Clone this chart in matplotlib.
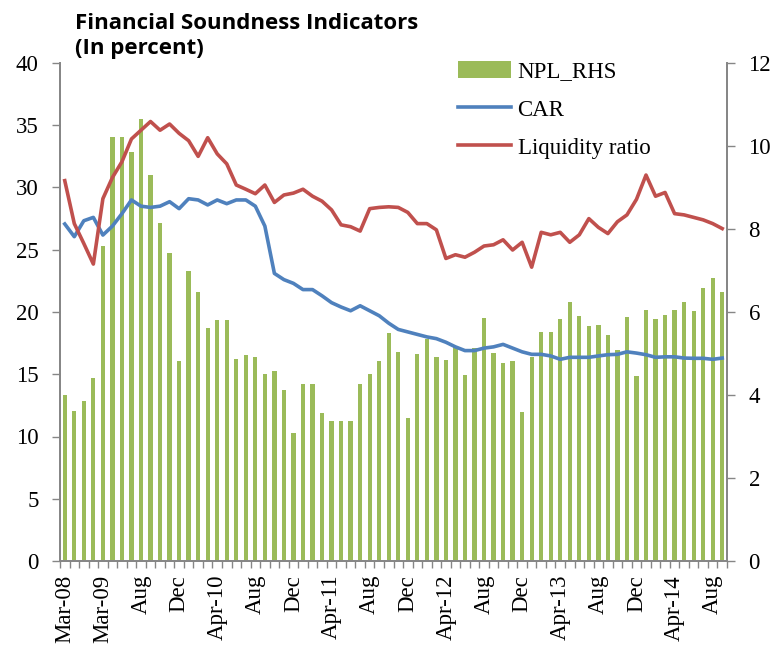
import numpy as np
import matplotlib.pyplot as plt

# categories: quarterly 2008, then monthly to Sep-14
categories = ["Mar-08", "Jun-08", "Sep-08", "Dec-08", "Mar-09", "May-09", "Jun-09", "Jul-09",
              "Aug-09", "Sep-09", "Oct-09", "Nov-09", "Dec-09"]
months = ["Jan", "Feb", "Mar", "Apr", "May", "Jun", "Jul", "Aug", "Sep", "Oct", "Nov", "Dec"]
for yr in ["10", "11", "12", "13", "14"]:
    for m in months:
        categories.append(m + "-" + yr)
categories = categories[:70]

tick_labels = ["Mar-08", "Mar-09", "Aug", "Dec", "Apr-10", "Aug", "Dec", "Apr-11", "Aug",
               "Dec", "Apr-12", "Aug", "Dec", "Apr-13", "Aug", "Dec", "Apr-14", "Aug"]

npl = [4.00, 3.61, 3.86, 4.40, 7.59, 10.21, 10.21, 9.85, 10.65, 9.30, 8.14, 7.42, 4.81, 7.00,
       6.48, 5.61, 5.81, 5.81, 4.86, 4.96, 4.91, 4.51, 4.59, 4.13, 3.08, 4.27, 4.26, 3.56,
       3.37, 3.37, 3.37, 4.27, 4.51, 4.82, 5.49, 5.04, 3.44, 5.00, 5.34, 4.91, 4.84, 5.16,
       4.48, 5.13, 5.85, 5.02, 4.76, 4.82, 3.60, 4.92, 5.53, 5.53, 5.83, 6.23, 5.90, 5.67,
       5.69, 5.45, 5.08, 5.88, 4.46, 6.06, 5.82, 5.92, 6.04, 6.23, 6.02, 6.57, 6.82, 6.49]

car = [27.07, 26.05, 27.33, 27.6, 26.18, 26.9, 27.9, 29.0, 28.5, 28.4, 28.5, 28.86, 28.3, 29.1,
       29.0, 28.6, 29.0, 28.7, 29.0, 29.0, 28.5, 26.9, 23.1, 22.6, 22.3, 21.8, 21.8, 21.3,
       20.75, 20.4, 20.1, 20.5, 20.1, 19.7, 19.1, 18.6, 18.4, 18.2, 18.0, 17.86, 17.57, 17.2,
       16.9, 16.9, 17.1, 17.2, 17.4, 17.1, 16.8, 16.6, 16.6, 16.47, 16.2, 16.36, 16.36, 16.36,
       16.47, 16.57, 16.6, 16.8, 16.7, 16.57, 16.36, 16.4, 16.4, 16.3, 16.28, 16.28, 16.2, 16.3]

liquidity = [30.55, 27.1, 25.5, 23.85, 29.1, 30.8, 32.07, 33.9, 34.6, 35.3, 34.6, 35.1, 34.35,
             33.76, 32.5, 34.0, 32.7, 31.9, 30.2, 29.86, 29.5, 30.2, 28.8, 29.4, 29.55, 29.86,
             29.3, 28.9, 28.2, 27.0, 26.85, 26.5, 28.3, 28.4, 28.45, 28.4, 28.0, 27.1, 27.1,
             26.6, 24.3, 24.6, 24.4, 24.8, 25.3, 25.4, 25.8, 24.98, 25.6, 23.6, 26.4, 26.2,
             26.4, 25.6, 26.2, 27.5, 26.8, 26.3, 27.25, 27.8, 29.05, 31.0, 29.3, 29.6, 27.9,
             27.8, 27.6, 27.4, 27.1, 26.7]

green = "#9BBB59"
blue = "#4F81BD"
red = "#C0504D"
grey = "#868686"
serif = "Liberation Serif"
fs = 16.5

fig = plt.figure(figsize=(7.79, 6.52), dpi=100)
ax = fig.add_axes([60/779, 1-561/652, 667/779, 498/652])
ax2 = ax.twinx()
x = np.arange(len(categories))

bars = ax2.bar(x, npl, width=0.45, color=green, label="NPL_RHS")
l1, = ax.plot(x, car, color=blue, lw=2.6, label="CAR")
l2, = ax.plot(x, liquidity, color=red, lw=2.6, label="Liquidity ratio")

# lines above the bars
ax.set_zorder(ax2.get_zorder() + 1)
ax.patch.set_visible(False)

ax.set_xlim(-0.5, len(categories) - 0.5)
ax.set_ylim(0, 40)
ax2.set_ylim(0, 12)
ax.set_yticks(range(0, 41, 5))
ax2.set_yticks(range(0, 13, 2))

ax.set_xticks(x[::4])
ax.set_xticklabels(tick_labels, rotation=90, fontfamily=serif, fontsize=fs)
ax.set_xticks(np.arange(-0.5, len(categories), 1), minor=True)
ax.tick_params(axis="x", which="major", length=0, pad=10)
ax.tick_params(axis="x", which="minor", length=5, color=grey, width=1)

for a in (ax, ax2):
    a.spines["top"].set_visible(False)
    for s in ("left", "right", "bottom"):
        a.spines[s].set_color(grey)
        a.spines[s].set_linewidth(1.3)
    a.tick_params(axis="y", length=5.5, color=grey, width=1, labelsize=fs, pad=10)
    for t in a.get_yticklabels():
        t.set_fontfamily(serif)

ax.legend(handles=[bars, l1, l2], loc="upper left", bbox_to_anchor=(458/779, 1-61/652),
          bbox_transform=fig.transFigure, frameon=False, borderpad=0, borderaxespad=0,
          prop={"family": serif, "size": fs}, handlelength=2.3, handleheight=0.75,
          labelspacing=0.73, handletextpad=0.3)

fig.text(75/779, 1-13/652, "Financial Soundness Indicators\n(In percent)", fontsize=16,
         fontweight="bold", family="Open Sans", va="top", ha="left", linespacing=1.25)

fig.savefig("out.png", dpi=100)
